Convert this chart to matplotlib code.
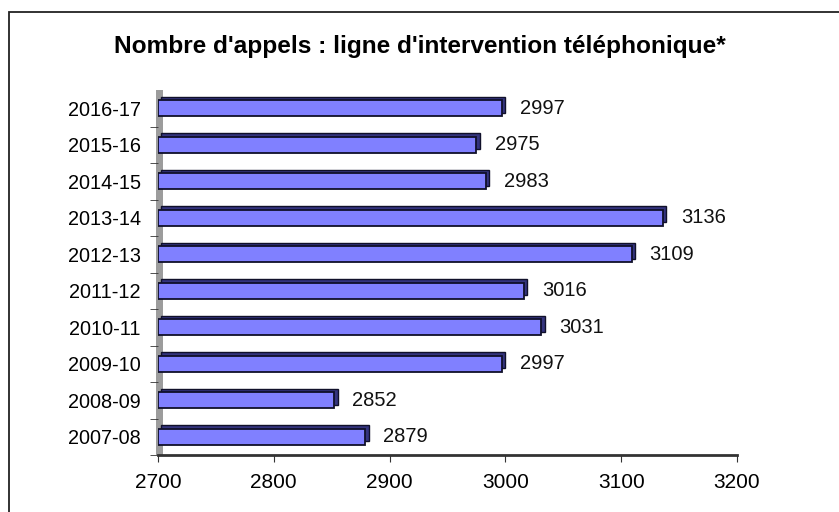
# -*- coding: utf-8 -*-
"""
Nombre d'appels : ligne d'intervention telephonique - horizontal 3D-style bars
"""
import matplotlib
matplotlib.use("Agg")
import matplotlib.pyplot as plt
from matplotlib.patches import Rectangle
from matplotlib.transforms import ScaledTranslation

# Data
years = ["2007-08", "2008-09", "2009-10", "2010-11", "2011-12",
         "2012-13", "2013-14", "2014-15", "2015-16", "2016-17"]
calls = [2879, 2852, 2997, 3031, 3016, 3109, 3136, 2983, 2975, 2997]
x_ticks = [2700, 2800, 2900, 3000, 3100, 3200]

plt.rcParams["font.family"] = ["Liberation Sans", "DejaVu Sans"]

W, H = 839, 512
fig = plt.figure(figsize=(W / 100, H / 100), dpi=100)

# outer frame (right and bottom edges fall outside the image)
fig.patches.append(Rectangle((9 / W, -0.1), 1.2, 1 - 12 / H + 0.1,
                             transform=fig.transFigure, fill=False,
                             edgecolor="#222222", linewidth=1.3))

ax = fig.add_axes([158 / W, (H - 455) / H, (737 - 158) / W, (455 - 90) / H])

pos = list(range(len(years)))
depth = ScaledTranslation(3.5 / 100, 3.5 / 100, fig.dpi_scale_trans)

# back face (gives the 3D look)
ax.barh(pos, [c - 2700 for c in calls], left=2700, height=0.44,
        color="#34347e", edgecolor="#10102a", linewidth=1.0,
        transform=ax.transData + depth, zorder=2)
# front face
ax.barh(pos, [c - 2700 for c in calls], left=2700, height=0.44,
        color="#8080ff", edgecolor="#10102a", linewidth=1.3, zorder=3)

for p, c in zip(pos, calls):
    ax.annotate(str(c), (c, p), xytext=(13, 0), textcoords="offset points",
                va="center", ha="left", fontsize=14.5, color="#111111")

# grey left wall
ax.add_patch(Rectangle((-0.004, 0), 0.013, 1.0, transform=ax.transAxes,
                       facecolor="#9c9c9c", edgecolor="none",
                       clip_on=False, zorder=1))

ax.set_xlim(2700, 3200)
ax.set_ylim(-0.5, len(years) - 0.5)
ax.set_xticks(x_ticks)
ax.set_xticklabels([str(t) for t in x_ticks])
ax.set_yticks(pos)
ax.set_yticklabels(years)
ax.set_yticks([p + 0.5 for p in pos[:-1]] + [-0.5], minor=True)
ax.tick_params(axis="y", which="major", length=0, pad=12.5, labelsize=14.3)
ax.tick_params(axis="y", which="minor", length=6, color="#333333",
               direction="out", pad=0)
ax.tick_params(axis="x", length=5, color="#333333", pad=8, labelsize=15,
               direction="out")

for s in ["top", "right", "left"]:
    ax.spines[s].set_visible(False)
ax.spines["bottom"].set_color("#333333")
ax.spines["bottom"].set_linewidth(2)

fig.text(0.5 * (117 + 723) / W, 1 - 47 / H,
         "Nombre d'appels : ligne d'intervention téléphonique*",
         ha="center", va="center", fontsize=17.6, fontweight="bold")

fig.savefig("out.png", dpi=100)
